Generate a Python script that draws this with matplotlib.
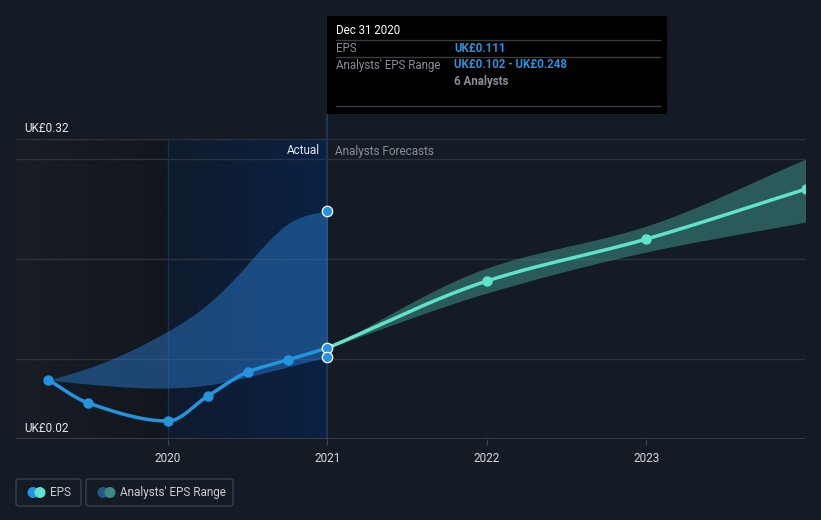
import numpy as np
import matplotlib
matplotlib.use("Agg")
import matplotlib.pyplot as plt
from matplotlib.patches import FancyBboxPatch, Rectangle, Circle

plt.rcParams['font.family'] = ['Roboto', 'DejaVu Sans']

# ---- data (decimal years, GBP) ----
eps_years = [2019.25, 2019.5, 2020.0, 2020.25, 2020.5, 2020.75, 2021.0]
eps_values = [0.079, 0.056, 0.038, 0.063, 0.087, 0.099, 0.111]

range_years = [2019.25, 2019.5, 2020.0, 2020.25, 2020.5, 2020.75, 2021.0]
range_high = [0.079, 0.091, 0.128, 0.155, 0.195, 0.235, 0.248]
range_low = [0.079, 0.075, 0.071, 0.074, 0.082, 0.092, 0.102]

fc_years = [2021.0, 2022.0, 2023.0, 2024.0]
fc_eps = [0.111, 0.178, 0.220, 0.270]
fc_high = [0.111, 0.191, 0.233, 0.300]
fc_low = [0.111, 0.166, 0.207, 0.237]

year_ticks = [2020, 2021, 2022, 2023]

BG = '#151b25'
BLUE = '#2394df'
TEAL = '#5fe3cb'


def smooth(x, y, n=200):
    # monotone cubic (Fritsch-Carlson) just for drawing smooth curves
    x = np.asarray(x, float)
    y = np.asarray(y, float)
    h = np.diff(x)
    d = np.diff(y) / h
    m = np.zeros_like(y)
    m[0], m[-1] = d[0], d[-1]
    for i in range(1, len(y) - 1):
        if d[i - 1] * d[i] <= 0:
            m[i] = 0
        else:
            w1 = 2 * h[i] + h[i - 1]
            w2 = h[i] + 2 * h[i - 1]
            m[i] = (w1 + w2) / (w1 / d[i - 1] + w2 / d[i])
    return hermite(x, y, m, n)


def natural(x, y, n=200):
    # natural cubic spline slopes, for the smoother range outline
    x = np.asarray(x, float)
    y = np.asarray(y, float)
    k = len(x)
    h = np.diff(x)
    A = np.zeros((k, k))
    b = np.zeros(k)
    A[0, 0], A[0, 1] = 2 / h[0], 1 / h[0]
    b[0] = 3 * (y[1] - y[0]) / h[0] ** 2
    A[-1, -2], A[-1, -1] = 1 / h[-1], 2 / h[-1]
    b[-1] = 3 * (y[-1] - y[-2]) / h[-1] ** 2
    for i in range(1, k - 1):
        A[i, i - 1] = 1 / h[i - 1]
        A[i, i] = 2 / h[i - 1] + 2 / h[i]
        A[i, i + 1] = 1 / h[i]
        b[i] = 3 * ((y[i] - y[i - 1]) / h[i - 1] ** 2 + (y[i + 1] - y[i]) / h[i] ** 2)
    m = np.linalg.solve(A, b)
    return hermite(x, y, m, n)


def hermite(x, y, m, n):
    h = np.diff(x)
    xs = np.linspace(x[0], x[-1], n)
    idx = np.clip(np.searchsorted(x, xs) - 1, 0, len(x) - 2)
    t = (xs - x[idx]) / h[idx]
    h00 = 2 * t**3 - 3 * t**2 + 1
    h10 = t**3 - 2 * t**2 + t
    h01 = -2 * t**3 + 3 * t**2
    h11 = t**3 - t**2
    ys = h00 * y[idx] + h10 * h[idx] * m[idx] + h01 * y[idx + 1] + h11 * h[idx] * m[idx + 1]
    return xs, ys


fig = plt.figure(figsize=(8.21, 5.20), dpi=100)
fig.patch.set_facecolor(BG)
ax = fig.add_axes([16 / 821, 81 / 520, 789 / 821, 300 / 520])
ax.set_facecolor(BG)
x0, x1 = 2019.047, 2023.994
ax.set_xlim(x0, x1)
ax.set_ylim(0.02, 0.32)

# background shading: past (dark) and actual year (blue)
grad = np.linspace(0, 1, 100).reshape(1, -1)
ax.imshow(grad, extent=[x0, 2020.0, 0.02, 0.32], aspect='auto', zorder=0,
          cmap=matplotlib.colors.LinearSegmentedColormap.from_list('d', ['#181d26', '#12161d']))
ax.imshow(grad, extent=[2020.0, 2021.0, 0.02, 0.32], aspect='auto', zorder=0,
          cmap=matplotlib.colors.LinearSegmentedColormap.from_list('b', ['#0f1a2c', '#0b2243']))
ax.axvline(2020.0, color='#17304f', lw=1, zorder=1)
ax.plot([2021.0, 2021.0], [0.02, 0.344], color='#1b3c66', lw=1.2, zorder=1, clip_on=False)

# grid
for g in [0.1, 0.2, 0.3, 0.32]:
    ax.axhline(g, color='#2d333e', lw=1, zorder=1)
ax.axhline(0.02, color='#3d434d', lw=1.2, zorder=1)

# range bands
xs, hi = natural(range_years, range_high)
_, lo = natural(range_years, range_low)
ax.fill_between(xs, lo, hi, color='#2877c6', alpha=0.5, lw=0, zorder=2)
xs2, hi2 = smooth(fc_years, fc_high)
_, lo2 = smooth(fc_years, fc_low)
ax.fill_between(xs2, lo2, hi2, color='#3c8f86', alpha=0.55, lw=0, zorder=2)

# EPS lines
xe, ye = smooth(eps_years, eps_values)
ax.plot(xe, ye, color=BLUE, lw=2.5, zorder=3, solid_capstyle='round')
ax.plot(eps_years[:-1], eps_values[:-1], 'o', color=BLUE, ms=6.5, zorder=4)
xf, yf = smooth(fc_years, fc_eps)
ax.plot(xf, yf, color=TEAL, lw=2.5, zorder=3)
ax.plot(fc_years[1:], fc_eps[1:], 'o', color=TEAL, ms=6.5, zorder=4, clip_on=True)

# highlighted points at Dec 31 2020
for v in [eps_values[-1], range_high[-1], range_low[-1]]:
    ax.plot(2021.0, v, 'o', color=BLUE, ms=7.5, mec='white', mew=0.9, zorder=5)

# axes styling
for s in ax.spines.values():
    s.set_visible(False)
ax.set_yticks([])
ax.set_xticks(year_ticks)
ax.set_xticklabels([str(y) for y in year_ticks], color='#d8dadd', fontsize=8.5)
ax.tick_params(axis='x', length=4, color='#3d434d', pad=5)

ax.text(0.01, 0.324, 'UK£0.32', transform=ax.get_yaxis_transform(),
        color='#e6e8ea', fontsize=8.5, va='bottom', ha='left')
ax.text(0.01, 0.024, 'UK£0.02', transform=ax.get_yaxis_transform(),
        color='#e6e8ea', fontsize=8.5, va='bottom', ha='left')
ax.text(2020.95, 0.308, 'Actual', color='#e6e8ea', fontsize=8.5, ha='right', va='center')
ax.text(2021.05, 0.308, 'Analysts Forecasts', color='#8a8f96', fontsize=8.5, ha='left', va='center')

# tooltip box (figure pixel coords)
W, H = 821, 520


def fx(px):
    return px / W


def fy(py):
    return 1 - py / H


fig.patches.append(Rectangle((fx(327), fy(114)), fx(667) - fx(327), fy(16) - fy(114),
                             transform=fig.transFigure, facecolor='#000000', edgecolor='none', zorder=10))
for ly in [40, 57, 106]:
    fig.lines.append(plt.Line2D([fx(336), fx(660)], [fy(ly), fy(ly)], transform=fig.transFigure,
                                color='#3a3d42', lw=1, zorder=11))
fig.text(fx(336), fy(31), 'Dec 31 2020', color='white', fontsize=8.3, va='center', zorder=12)
fig.text(fx(336), fy(48), 'EPS', color='#8a8f96', fontsize=8.3, va='center', zorder=12)
fig.text(fx(454), fy(48), 'UK£0.111', color=BLUE, fontsize=8.3, fontweight='bold', va='center', zorder=12)
fig.text(fx(336), fy(65), "Analysts' EPS Range", color='#8a8f96', fontsize=8.3, va='center', zorder=12)
fig.text(fx(454), fy(65), 'UK£0.102 - UK£0.248', color=BLUE, fontsize=8.3, fontweight='bold',
         va='center', zorder=12)
fig.text(fx(454), fy(81), '6 Analysts', color='#8a8f96', fontsize=8.3, fontweight='bold', va='center', zorder=12)

# legend boxes
for (bx0, bx1) in [(16, 81), (86, 233)]:
    fig.patches.append(FancyBboxPatch((fx(bx0), fy(506)), fx(bx1) - fx(bx0), fy(479) - fy(506),
                                      boxstyle='round,pad=0,rounding_size=0.004', transform=fig.transFigure,
                                      facecolor='none', edgecolor='#3a404b', lw=1))


def dots(px, c1, c2):
    # circles drawn in pixel space so they stay round
    for cx, c in [(px, c1), (px + 7, c2)]:
        circ = Circle((cx, 520 - 492.5), 5.5, facecolor=c, edgecolor='none')
        circ.set_transform(matplotlib.transforms.IdentityTransform())
        fig.patches.append(circ)


dots(33, BLUE, TEAL)
dots(103, '#22598a', '#3e8a83')
fig.text(fx(50), fy(492.5), 'EPS', color='#c9ccd0', fontsize=8.5, va='center')
fig.text(fx(120), fy(492.5), "Analysts' EPS Range", color='#c9ccd0', fontsize=8.5, va='center')

fig.savefig('out.png', dpi=100, facecolor=BG)
